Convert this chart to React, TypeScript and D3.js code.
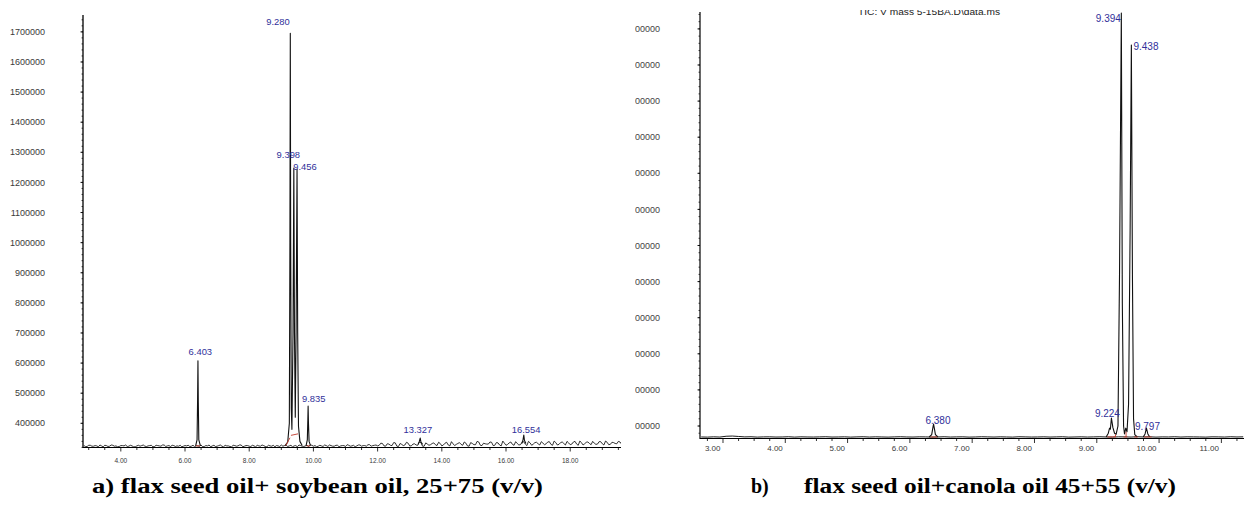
import React, { useEffect, useRef } from 'react';
import * as d3 from 'd3';

// ---------- panel a) flax seed oil + soybean oil ----------
const aYTicks = [400000, 500000, 600000, 700000, 800000, 900000, 1000000, 1100000, 1200000, 1300000, 1400000, 1500000, 1600000, 1700000];
const aXTicks = [4, 6, 8, 10, 12, 14, 16, 18];
// baseline read every 0.1 min from 2.85 min (and the in-between samples from 2.90), thousands of counts
const aNoiseStart = 2.85;
const aNoise = [
  326, 323, 327, 324, 325, 328, 322, 326, 324, 327, 325, 323, 326, 328, 324, 325, 322, 327, 326, 324, 325, 327, 323, 326, 324, 328, 325, 323, 326, 325, 327, 324,
  325, 323, 327, 326, 324, 322, 326, 328, 325, 323, 326, 324, 327, 325, 322, 326, 325, 328, 324, 326, 323, 325, 327, 324, 326, 322, 325, 327, 326, 323,
  324, 327, 325, 322, 326, 328, 324, 325, 323, 327, 326, 324, 325, 328, 323, 326, 324, 327, 325, 326, 329, 324, 327, 325, 328, 326, 324, 329, 326, 328,
  327, 333, 324, 331, 326, 335, 323, 330, 328, 334, 325, 332, 327, 336, 324, 331, 329, 335, 326, 333,
  328, 337, 325, 332, 330, 336, 327, 334, 324, 333, 329, 338, 326, 332, 331, 337, 327, 335, 325, 334,
  330, 338, 327, 333, 329, 339, 326, 335, 331, 337, 328, 334, 332, 339, 327, 336, 330, 338, 328, 335,
  331, 340, 327, 336, 332, 338, 329, 334, 331, 339, 328, 337, 330, 336, 332, 338,
];
const aNoiseMid = [
  323, 327, 324, 326, 322, 325, 327, 323, 328, 324, 322, 326, 325, 323, 327, 322, 325, 324, 328, 323, 326, 322, 327, 325, 328, 323, 326, 327, 323, 324, 322, 326,
  327, 324, 322, 325, 328, 323, 325, 322, 327, 324, 328, 322, 325, 323, 327, 324, 328, 322, 326, 324, 327, 322, 325, 328, 323, 327, 324, 322, 325, 328,
  326, 323, 327, 325, 322, 326, 323, 327, 328, 324, 322, 327, 323, 326, 328, 324, 327, 322, 326, 323, 327, 325, 322, 328, 324, 326, 329, 324, 327, 325,
  334, 325, 332, 327, 336, 324, 333, 326, 337, 325, 331, 328, 338, 324, 335, 327, 333, 329, 337, 325,
  334, 328, 339, 326, 333, 330, 338, 325, 336, 329, 340, 327, 334, 331, 338, 326, 336, 328, 341, 327,
  335, 330, 339, 328, 337, 331, 340, 327, 336, 332, 339, 329, 338, 330, 341, 328, 336, 333, 340, 329,
  338, 331, 341, 328, 337, 333, 340, 330, 339, 332, 341, 329, 337, 333, 340, 331,
];
const aPeaks: [number, number][][] = [
  [[6.33, 325000], [6.375, 345000], [6.392, 480000], [6.403, 608000], [6.414, 470000], [6.43, 345000], [6.48, 325000]],
  [[9.12, 326000], [9.2, 338000], [9.25, 400000], [9.268, 1000000], [9.28, 1695000], [9.292, 1000000], [9.31, 450000], [9.33, 380000],
   [9.365, 700000], [9.39, 1248000], [9.41, 700000], [9.435, 420000], [9.46, 700000], [9.49, 1244000], [9.51, 700000], [9.535, 390000],
   [9.58, 340000], [9.65, 326000]],
  [[9.77, 325000], [9.81, 345000], [9.826, 410000], [9.835, 457000], [9.846, 400000], [9.865, 340000], [9.91, 326000]],
  [[13.26, 330000], [13.3, 340000], [13.327, 351000], [13.35, 338000], [13.4, 330000]],
  [[16.49, 333000], [16.53, 345000], [16.554, 361000], [16.575, 343000], [16.62, 333000]],
];
const aLabels = ['6.403', '9.280', '9.398', '9.456', '9.835', '13.327', '16.554'];
const aApex: [number, number][] = [[6.403, 608000], [9.28, 1695000], [9.39, 1248000], [9.49, 1244000], [9.835, 457000], [13.327, 351000], [16.554, 361000]];
const aRed: [number, number][][] = [
  [[6.34, 325000], [6.47, 325000]],
  [[9.14, 326000], [9.27, 352000]],
  [[9.3, 360000], [9.52, 365000]],
  [[9.79, 325000], [9.9, 325000]],
];

// ---------- panel b) flax seed oil + canola oil ----------
const bYTicks = [500000, 1000000, 1500000, 2000000, 2500000, 3000000, 3500000, 4000000, 4500000, 5000000, 5500000, 6000000];
const bXTicks = [3, 4, 5, 6, 7, 8, 9, 10, 11];
const bNoiseStart = 2.65;
const bNoise = [
  348, 346, 350, 347, 358, 361, 355, 349, 351, 346, 349, 350, 347, 348, 351, 346, 350, 348, 347, 349,
  351, 347, 348, 350, 346, 349, 351, 347, 350, 348, 346, 349, 351, 348, 347, 350, 349, 346, 348, 351,
  347, 349, 350, 346, 348, 351, 349, 347, 350, 348, 346, 351, 349, 347, 348, 350, 347, 349, 351, 346,
  348, 350, 347, 349, 351, 348, 346, 350, 349, 347, 351, 348, 350, 346, 349, 348, 351, 347, 350, 349,
  348, 346, 350, 349, 347, 351, 348, 350,
];
const bPeaks: [number, number][][] = [
  [[6.31, 348000], [6.35, 380000], [6.37, 480000], [6.38, 528000], [6.392, 470000], [6.41, 380000], [6.45, 348000]],
  [[9.15, 348000], [9.185, 400000], [9.205, 470000], [9.218, 455000], [9.235, 611000], [9.258, 480000], [9.285, 400000], [9.31, 385000],
   [9.34, 500000], [9.365, 2600000], [9.394, 6220000], [9.41, 2200000], [9.43, 500000], [9.445, 390000], [9.465, 470000], [9.485, 420000],
   [9.51, 800000], [9.535, 3200000], [9.555, 5777000], [9.572, 2600000], [9.59, 600000], [9.61, 380000], [9.65, 348000]],
  [[9.745, 348000], [9.775, 390000], [9.797, 472000], [9.82, 390000], [9.85, 348000]],
];
const bLabels = ['6.380', '9.224', '9.394', '9.438', '9.797'];
const bApex: [number, number][] = [[6.38, 528000], [9.235, 611000], [9.394, 6220000], [9.555, 5777000], [9.797, 472000]];
const bRed: [number, number][][] = [
  [[6.33, 348000], [6.44, 348000]],
  [[9.17, 348000], [9.31, 350000]],
  [[9.3, 348000], [9.3, 385000]],
  [[9.43, 348000], [9.49, 348000]],
  [[9.47, 348000], [9.47, 420000]],
  [[9.6, 348000], [9.66, 348000]],
  [[9.76, 348000], [9.88, 348000]],
];

const captionA = 'a) flax seed oil+ soybean oil, 25+75 (v/v)';
const captionB1 = 'b)';
const captionB2 = 'flax seed oil+canola oil 45+55 (v/v)';
const headerB = 'TIC: V mass 5-15BA.D\\data.ms';

// label nudges (px) relative to the apex, as printed by the software
const aNudge = [[2.4, -9], [-12.3, -11.7], [-5.5, -13.7], [8, -2.5], [5.6, -7.8], [-2.4, -8.8], [2.3, -5.8]];
const bNudge = [[4.4, -3], [-4, -4.7], [-13, 5], [14.6, 2], [1, -2]];

const SANS = 'Liberation Sans, Arial, sans-serif';
const BLUE = '#30309a';

export default function App() {
  const ref = useRef<SVGSVGElement>(null);

  useEffect(() => {
    const svg = d3.select(ref.current);
    svg.selectAll('*').remove();

    const defs = svg.append('defs');
    defs.append('clipPath').attr('id', 'clipA').append('rect')
      .attr('x', 0).attr('y', 0).attr('width', 621).attr('height', 470);
    defs.append('clipPath').attr('id', 'clipB').append('rect')
      .attr('x', 635).attr('y', 10).attr('width', 609).attr('height', 460);

    // ---- panel a ----
    const xa = d3.scaleLinear().domain([2.822, 19.551]).range([83, 620]);
    const ya = d3.scaleLinear().domain([318000, 1756000]).range([448, 15]);
    const ga = svg.append('g').attr('clip-path', 'url(#clipA)');

    ga.append('line').attr('x1', 83).attr('x2', 83).attr('y1', ya(1756000)).attr('y2', 448)
      .attr('stroke', '#000').attr('stroke-width', 1.3);
    ga.append('line').attr('x1', 83).attr('x2', 621).attr('y1', 447.5).attr('y2', 447.5)
      .attr('stroke', '#000').attr('stroke-width', 1);

    // y ticks
    const aMinorY = d3.range(320000, 1750001, 20000);
    ga.selectAll('.amy').data(aMinorY).join('line')
      .attr('x1', 81.5).attr('x2', 83).attr('y1', d => ya(d)).attr('y2', d => ya(d))
      .attr('stroke', '#000').attr('stroke-width', 0.7);
    ga.selectAll('.aMy').data(aYTicks).join('line')
      .attr('x1', 80.5).attr('x2', 83).attr('y1', d => ya(d)).attr('y2', d => ya(d))
      .attr('stroke', '#000').attr('stroke-width', 0.9);
    ga.selectAll('.ayl').data(aYTicks).join('text')
      .attr('x', 45).attr('y', d => ya(d)).attr('dy', '0.35em')
      .attr('text-anchor', 'end').attr('font-family', SANS).attr('font-size', 9)
      .attr('fill', '#3a3a3a').text(d => String(d));

    // x ticks
    const aMinorX = d3.range(3, 19.51, 0.5);
    ga.selectAll('.amx').data(aMinorX).join('line')
      .attr('x1', d => xa(d)).attr('x2', d => xa(d)).attr('y1', 447.5)
      .attr('y2', d => (Math.abs(d % 2) < 1e-6 ? 451.5 : 450))
      .attr('stroke', '#000').attr('stroke-width', 0.8);
    ga.selectAll('.axl').data(aXTicks).join('text')
      .attr('x', d => xa(d)).attr('y', 461).attr('dy', '0.35em')
      .attr('text-anchor', 'middle').attr('font-family', SANS).attr('font-size', 6.6)
      .attr('fill', '#3a3a3a').text(d => d.toFixed(2));

    const lineA = d3.line<[number, number]>().x(d => xa(d[0])).y(d => ya(d[1]));
    const aBase: [number, number][] = [];
    aNoise.forEach((v, i) => {
      aBase.push([aNoiseStart + i * 0.1, v * 1000]);
      aBase.push([aNoiseStart + 0.05 + i * 0.1, aNoiseMid[i] * 1000]);
    });
    ga.append('path').attr('d', lineA(aBase)).attr('fill', 'none')
      .attr('stroke', '#000').attr('stroke-width', 0.8);
    aPeaks.forEach(p => {
      ga.append('path').attr('d', lineA(p)).attr('fill', 'none')
        .attr('stroke', '#111').attr('stroke-width', 1.1).attr('stroke-linejoin', 'round');
    });
    aRed.forEach(s => {
      ga.append('path').attr('d', lineA(s)).attr('fill', 'none')
        .attr('stroke', '#c0392b').attr('stroke-width', 0.9);
    });
    ga.selectAll('.apl').data(aLabels).join('text')
      .attr('x', (d, i) => xa(aApex[i][0]) + aNudge[i][0])
      .attr('y', (d, i) => ya(aApex[i][1]) + aNudge[i][1]).attr('dy', '0.35em')
      .attr('text-anchor', 'middle').attr('font-family', SANS).attr('font-size', 9.4)
      .attr('fill', BLUE).text(d => d);

    // ---- panel b ----
    const xb = d3.scaleLinear().domain([2.631, 11.363]).range([700, 1244]);
    const yb = d3.scaleLinear().domain([320000, 6234000]).range([439, 12]);
    const gb = svg.append('g').attr('clip-path', 'url(#clipB)');

    gb.append('text').attr('x', 858).attr('y', 14.5).attr('font-family', SANS).attr('font-size', 9)
      .attr('textLength', 142).attr('lengthAdjust', 'spacingAndGlyphs')
      .attr('fill', '#222').text(headerB);

    gb.append('line').attr('x1', 700).attr('x2', 700).attr('y1', 12).attr('y2', 439)
      .attr('stroke', '#000').attr('stroke-width', 1.2);
    gb.append('line').attr('x1', 700).attr('x2', 1244).attr('y1', 438.5).attr('y2', 438.5)
      .attr('stroke', '#000').attr('stroke-width', 1);

    const bMinorY = d3.range(400000, 6200001, 100000);
    gb.selectAll('.bmy').data(bMinorY).join('line')
      .attr('x1', 698.5).attr('x2', 700).attr('y1', d => yb(d)).attr('y2', d => yb(d))
      .attr('stroke', '#000').attr('stroke-width', 0.7);
    gb.selectAll('.bMy').data(bYTicks).join('line')
      .attr('x1', 697.5).attr('x2', 700).attr('y1', d => yb(d)).attr('y2', d => yb(d))
      .attr('stroke', '#000').attr('stroke-width', 0.9);
    gb.selectAll('.byl').data(bYTicks).join('text')
      .attr('x', 660).attr('y', d => yb(d)).attr('dy', '0.35em')
      .attr('text-anchor', 'end').attr('font-family', SANS).attr('font-size', 9)
      .attr('fill', '#444').text(d => String(d));

    const bMinorX = d3.range(2.75, 11.31, 0.25);
    gb.selectAll('.bmx').data(bMinorX).join('line')
      .attr('x1', d => xb(d)).attr('x2', d => xb(d)).attr('y1', 438.5)
      .attr('y2', d => (Math.abs(d - Math.round(d)) < 1e-6 ? 443 : 441))
      .attr('stroke', '#000').attr('stroke-width', 0.8);
    gb.selectAll('.bxl').data(bXTicks).join('text')
      .attr('x', d => xb(d) - 2.5).attr('y', 448.3).attr('dy', '0.35em')
      .attr('text-anchor', 'end').attr('font-family', SANS).attr('font-size', 8)
      .attr('fill', '#3a3a3a').text(d => d.toFixed(2));

    const lineB = d3.line<[number, number]>().x(d => xb(d[0])).y(d => yb(d[1]));
    const bBase: [number, number][] = bNoise.map((v, i) => [bNoiseStart + i * 0.1, v * 1000]);
    gb.append('path').attr('d', lineB(bBase)).attr('fill', 'none')
      .attr('stroke', '#000').attr('stroke-width', 0.9);
    bPeaks.forEach(p => {
      gb.append('path').attr('d', lineB(p)).attr('fill', 'none')
        .attr('stroke', '#111').attr('stroke-width', 1.1).attr('stroke-linejoin', 'round');
    });
    bRed.forEach(s => {
      gb.append('path').attr('d', lineB(s)).attr('fill', 'none')
        .attr('stroke', '#c0392b').attr('stroke-width', 0.9);
    });
    gb.selectAll('.bpl').data(bLabels).join('text')
      .attr('x', (d, i) => xb(bApex[i][0]) + bNudge[i][0])
      .attr('y', (d, i) => yb(bApex[i][1]) + bNudge[i][1]).attr('dy', '0.35em')
      .attr('text-anchor', 'middle').attr('font-family', SANS).attr('font-size', 10)
      .attr('fill', BLUE).text(d => d);

    // ---- captions ----
    const cap = svg.append('g').attr('font-family', 'Liberation Serif, Times New Roman, serif')
      .attr('font-weight', 'bold').attr('font-size', 20).attr('fill', '#000');
    cap.append('text').attr('x', 92).attr('y', 493).attr('textLength', 451)
      .attr('lengthAdjust', 'spacingAndGlyphs').text(captionA);
    cap.append('text').attr('x', 751).attr('y', 493).text(captionB1);
    cap.append('text').attr('x', 804).attr('y', 493).attr('textLength', 372)
      .attr('lengthAdjust', 'spacingAndGlyphs').text(captionB2);
  }, []);

  return (
    <div style={{ position: 'fixed', left: 0, top: 0 }}>
      <svg ref={ref} width={1244} height={506} style={{ display: 'block', background: '#fff' }} />
    </div>
  );
}
